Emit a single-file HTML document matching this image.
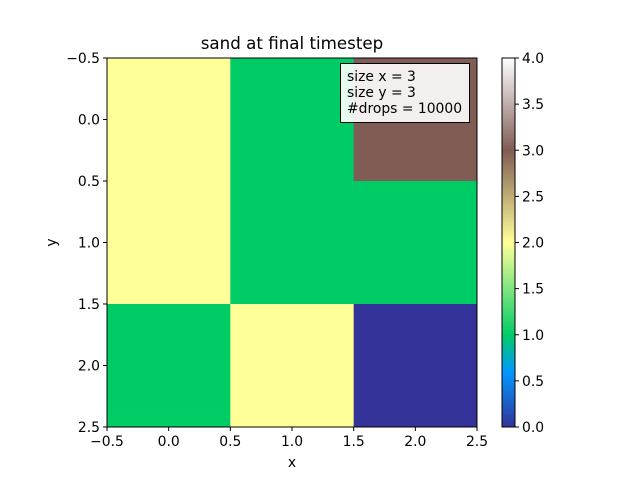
<!DOCTYPE html>
<html><head><meta charset="utf-8"><style>
body{margin:0;background:#fff}
svg{font-family:"DejaVu Sans","Liberation Sans",sans-serif}
</style></head><body>
<svg width="640" height="480" xmlns="http://www.w3.org/2000/svg">
<defs>
<linearGradient id="terrain" x1="0" y1="1" x2="0" y2="0">
<stop offset="0" stop-color="#333399"/>
<stop offset="0.15" stop-color="#0099ff"/>
<stop offset="0.25" stop-color="#00cc66"/>
<stop offset="0.5" stop-color="#ffff99"/>
<stop offset="0.75" stop-color="#805c54"/>
<stop offset="1" stop-color="#ffffff"/>
</linearGradient>
</defs>
<g id="plot"></g>
</svg>
<script>
const grid = [[2,1,3],[2,1,1],[1,2,0]];
const xTicks = [-0.5,0,0.5,1,1.5,2,2.5];
const yTicks = [-0.5,0,0.5,1,1.5,2,2.5];
const cTicks = [0,0.5,1,1.5,2,2.5,3,3.5,4];
const legendLines = ["size x = 3","size y = 3","#drops = 10000"];
const NS="http://www.w3.org/2000/svg";
const g=document.getElementById('plot');
const L=107,R=477,T=58,B=427;
const sx=v=>L+(v+0.5)/3*(R-L);
const sy=v=>T+(v+0.5)/3*(B-T);
const cy=v=>B-v/4*(B-T);
const stops=[[0,[51,51,153]],[0.15,[0,153,255]],[0.25,[0,204,102]],[0.5,[255,255,153]],[0.75,[128,92,84]],[1,[255,255,255]]];
function cmap(v){const t=v/4;for(let i=1;i<stops.length;i++){if(t<=stops[i][0]){const a=stops[i-1],b=stops[i];const f=(t-a[0])/(b[0]-a[0]);return 'rgb('+a[1].map((c,k)=>Math.round(c+(b[1][k]-c)*f)).join(',')+')';}}return '#fff';}
function el(tag,attrs,txt){const e=document.createElementNS(NS,tag);for(const k in attrs)e.setAttribute(k,attrs[k]);if(txt!=null)e.textContent=txt;g.appendChild(e);return e;}
const fmt=v=>v.toFixed(1).replace('-','−');
grid.forEach((row,r)=>row.forEach((v,c)=>{
const e=el('rect',{x:sx(c-0.5),y:sy(r-0.5),width:sx(c+0.5)-sx(c-0.5)+0.5,height:sy(r+0.5)-sy(r-0.5)+0.5,fill:cmap(v)});


}));
const fr=el('rect',{x:L,y:T,width:R-L,height:B-T,fill:'none',stroke:'#000','stroke-width':1});


xTicks.forEach(v=>{el('line',{x1:sx(v),x2:sx(v),y1:B,y2:B+4,stroke:'#000'});
const t=el('text',{x:sx(v),y:B+19,'text-anchor':'middle','font-size':13.9},fmt(v));

});
yTicks.forEach(v=>{el('line',{x1:L-4,x2:L,y1:sy(v),y2:sy(v),stroke:'#000'});
const t=el('text',{x:L-7,y:sy(v)+5,'text-anchor':'end','font-size':13.9},fmt(v));

});
const xt=el('text',{x:(L+R)/2,y:467,'text-anchor':'middle','font-size':13.9},'x');


const yt=el('text',{x:56,y:(T+B)/2,'text-anchor':'middle','font-size':13.9,transform:'rotate(-90 56 '+((T+B)/2)+')'},'y');


const tt=el('text',{x:(L+R)/2,y:49,'text-anchor':'middle','font-size':16.7},'sand at final timestep');


const cb=el('rect',{x:502,y:T,width:13,height:B-T,fill:'url(#terrain)',stroke:'#000','stroke-width':1});


cTicks.forEach(v=>{el('line',{x1:515,x2:519,y1:cy(v),y2:cy(v),stroke:'#000'});
const t=el('text',{x:522,y:cy(v)+5,'font-size':13.9},v.toFixed(1));

});
const lb=el('rect',{x:340.5,y:63.5,width:129,height:59,fill:'rgba(255,255,255,0.9)',stroke:'#000','stroke-width':1});


legendLines.forEach((s,i)=>{const t=el('text',{x:347,y:81+i*16,'font-size':13.9},s);

});
</script>
</body></html>
